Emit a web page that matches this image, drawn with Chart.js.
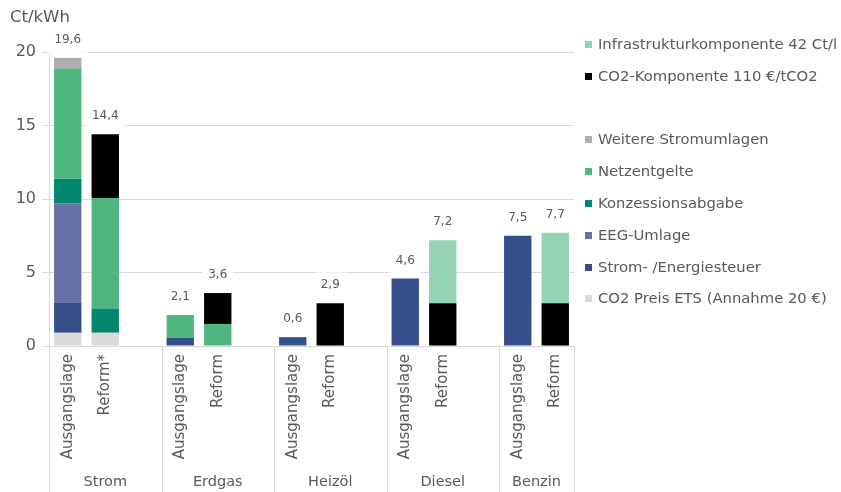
<!DOCTYPE html>
<html>
<head>
<meta charset="utf-8">
<script src="https://cdn.jsdelivr.net/npm/chart.js@4.4.1/dist/chart.umd.min.js"></script>
<style>
  html, body { margin: 0; padding: 0; background: #ffffff; }
  #wrap { position: relative; width: 841px; height: 492px; overflow: hidden; }
  #c { position: absolute; left: 0; top: 0; }
  #legend { position: absolute; left: 0; top: 0; width: 841px; height: 492px; pointer-events: none;
            font-family: "DejaVu Sans", sans-serif; font-size: 14.8px; color: #595959; }
  .li { position: absolute; left: 585px; white-space: nowrap; line-height: 16px; }
  .li span.sw { position: absolute; left: 0; top: 5px; width: 7px; height: 7px; }
  .li span.tx { position: absolute; left: 13px; top: 0; }
</style>
</head>
<body>
<div id="wrap">
  <canvas id="c" width="841" height="492"></canvas>
  <div id="legend"></div>
</div>
<script>
// ---- data ----
const categories = ["Ausgangslage","Reform*","","Ausgangslage","Reform","","Ausgangslage","Reform","","Ausgangslage","Reform","","Ausgangslage","Reform"];
const groups = ["Strom","Erdgas","Heizöl","Diesel","Benzin"];
const groupStart = [0, 3, 6, 9, 12];
const groupEnd   = [3, 6, 9, 12, 14];
const unitLabel = "Ct/kWh";
const yMax = 20;
const yStep = 5;

const co2PreisETS       = [0.9, 0.9, null, null, null, null, null, null, null, null, null, null, null, null];
const energiesteuer     = [2.05, null, null, 0.55, null, null, 0.6, null, null, 4.6, null, null, 7.5, null];
const eegUmlage         = [6.76, null, null, null, null, null, null, null, null, null, null, null, null, null];
const konzession        = [1.66, 1.66, null, null, null, null, null, null, null, null, null, null, null, null];
const netzentgelte      = [7.5, 7.5, null, 1.55, 1.5, null, null, null, null, null, null, null, null, null];
const weitereUmlagen    = [0.73, null, null, null, null, null, null, null, null, null, null, null, null, null];
const co2Komponente     = [null, 4.34, null, null, 2.1, null, null, 2.9, null, null, 2.9, null, null, 2.9];
const infrastruktur     = [null, null, null, null, null, null, null, null, null, null, 4.3, null, null, 4.8];

const seriesNames = ["CO2 Preis ETS (Annahme 20 €)","Strom- /Energiesteuer","EEG-Umlage","Konzessionsabgabe","Netzentgelte","Weitere Stromumlagen","CO2-Komponente 110 €/tCO2","Infrastrukturkomponente 42 Ct/l"];
const seriesData = [co2PreisETS, energiesteuer, eegUmlage, konzession, netzentgelte, weitereUmlagen, co2Komponente, infrastruktur];
const seriesColors = ["#d9d9d9","#354f8b","#6771a7","#03876f","#50b67f","#adadad","#000000","#94d4b4"];
// legend order (top to bottom), null = blank row
const legendOrder = [7, 6, null, 5, 4, 3, 2, 1, 0];

const TEXT = "#595959";
const GRID = "#d9d9d9";
const FONT = "'DejaVu Sans', sans-serif";

const datasets = seriesNames.map((n, i) => ({
  label: n,
  data: seriesData[i],
  backgroundColor: seriesColors[i],
  borderWidth: 0,
  stack: "s"
}));

const decorPlugin = {
  id: "decor",
  afterDraw(chart) {
    const ctx = chart.ctx;
    const x = chart.scales.x, y = chart.scales.y;
    const area = chart.chartArea;
    const slot = (area.right - area.left) / categories.length;
    ctx.save();
    // group separators and names
    ctx.strokeStyle = GRID;
    ctx.lineWidth = 1;
    const bounds = [];
    groups.forEach((g, i) => {
      const l = area.left + groupStart[i] * slot;
      const r = area.left + groupEnd[i] * slot;
      bounds.push(l); if (i === groups.length - 1) bounds.push(r);
      ctx.fillStyle = TEXT;
      ctx.font = "14.5px " + FONT;
      ctx.textAlign = "center";
      ctx.textBaseline = "middle";
      ctx.fillText(g, (l + r) / 2, 482);
    });
    bounds.forEach(b => {
      const bx = Math.round(b) + 0.5;
      ctx.beginPath(); ctx.moveTo(bx, area.bottom); ctx.lineTo(bx, chart.height); ctx.stroke();
    });
    // unit label
    ctx.fillStyle = TEXT;
    ctx.font = "16.5px " + FONT;
    ctx.textAlign = "left";
    ctx.textBaseline = "middle";
    ctx.fillText(unitLabel, 10, 18);
    // totals
    ctx.font = "12px " + FONT;
    ctx.textAlign = "center";
    for (let k = 0; k < categories.length; k++) {
      let tot = 0, any = false;
      seriesData.forEach(s => { if (s[k] != null) { tot += s[k]; any = true; } });
      if (!any) continue;
      const cx = x.getPixelForValue(k);
      const cy = y.getPixelForValue(tot) - 18;
      const txt = tot.toFixed(1).replace(".", ",");
      const w = ctx.measureText(txt).width + 12;
      ctx.fillStyle = "#ffffff";
      ctx.fillRect(cx - w / 2, cy - 13, w, 26);
      ctx.fillStyle = TEXT;
      ctx.fillText(txt, cx, cy);
    }
    ctx.restore();
  }
};

new Chart(document.getElementById("c"), {
  type: "bar",
  data: { labels: categories, datasets },
  options: {
    responsive: false,
    animation: false,
    devicePixelRatio: 1,
    layout: { padding: { top: 52, right: 267, left: 0, bottom: 0 } },
    plugins: { legend: { display: false }, tooltip: { enabled: false } },
    datasets: { bar: { categoryPercentage: 1.0, barPercentage: 0.73 } },
    scales: {
      x: {
        stacked: true,
        grid: { display: false, drawTicks: false },
        border: { display: true, color: GRID, width: 1 },
        ticks: { autoSkip: false, maxRotation: 90, minRotation: 90, padding: 8,
                 color: TEXT, font: { family: FONT, size: 15 } },
        afterFit(s) { s.height = 146; }
      },
      y: {
        stacked: true,
        min: 0, max: yMax,
        grid: { color: GRID, lineWidth: 1, tickLength: 7 },
        border: { display: true, color: GRID, width: 1 },
        ticks: { stepSize: yStep, padding: 6, color: TEXT, font: { family: FONT, size: 16 } },
        afterFit(s) { s.width = 49; }
      }
    }
  },
  plugins: [decorPlugin]
});

// HTML legend
const leg = document.getElementById("legend");
legendOrder.forEach((idx, row) => {
  if (idx === null) return;
  const d = document.createElement("div");
  d.className = "li";
  d.style.top = (44 + row * 31.8 - 8) + "px";
  d.innerHTML = '<span class="sw" style="background:' + seriesColors[idx] + '"></span><span class="tx"></span>';
  d.querySelector(".tx").textContent = seriesNames[idx];
  leg.appendChild(d);
});
</script>
</body>
</html>
